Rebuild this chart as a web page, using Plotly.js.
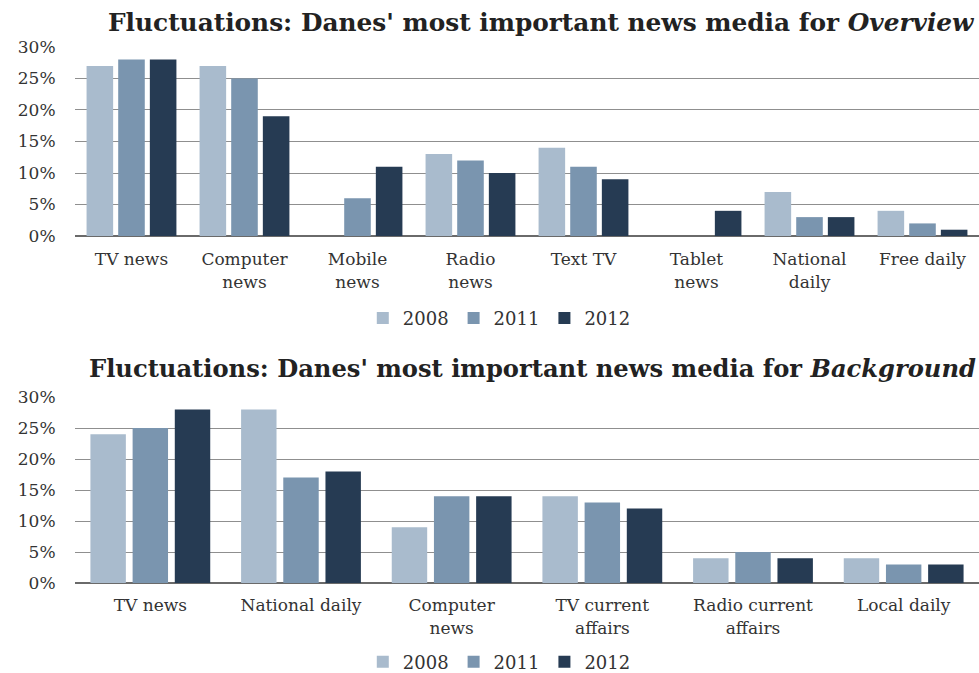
<!DOCTYPE html>
<html>
<head>
<meta charset="utf-8">
<script src="https://cdn.plot.ly/plotly-3.0.1.min.js"></script>
<style>html,body{margin:0;padding:0;background:#fff;}#chart{width:979px;height:673px;}</style>
</head>
<body>
<div id="chart"></div>
<script>
// ---- Data ----
const years = ["2008", "2011", "2012"];
const colors = ["#A9BBCD", "#7A95AF", "#263B53"];

const overviewCategories = ["TV news", "Computer<br>news", "Mobile<br>news", "Radio<br>news", "Text TV", "Tablet<br>news", "National<br>daily", "Free daily"];
const overview2008 = [27, 27, null, 13, 14, null, 7, 4];
const overview2011 = [28, 25, 6, 12, 11, null, 3, 2];
const overview2012 = [28, 19, 11, 10, 9, 4, 3, 1];

const backgroundCategories = ["TV news", "National daily", "Computer<br>news", "TV current<br>affairs", "Radio current<br>affairs", "Local daily"];
const background2008 = [24, 28, 9, 14, 4, 4];
const background2011 = [25, 17, 14, 13, 5, 3];
const background2012 = [28, 18, 14, 12, 4, 3];

const yTickVals = [0, 5, 10, 15, 20, 25, 30];
const yTickLabels = ["0%", "5%", "10%", "15%", "20%", "25%", "30%"];

const titleTop = "Fluctuations: Danes' most important news media for <i>Overview</i>";
const titleBottom = "Fluctuations: Danes' most important news media for <i>Background</i>";

// ---- Build ----
const serif = "DejaVu Serif, Liberation Serif, serif";
const overviewSeries = [overview2008, overview2011, overview2012];
const backgroundSeries = [background2008, background2011, background2012];

const traces = [];
years.forEach((y, i) => {
  traces.push({
    type: "bar", name: y, x: overviewCategories, y: overviewSeries[i],
    xaxis: "x", yaxis: "y", marker: {color: colors[i]}, legend: "legend",
    hoverinfo: "skip"
  });
});
years.forEach((y, i) => {
  traces.push({
    type: "bar", name: y, x: backgroundCategories, y: backgroundSeries[i],
    xaxis: "x2", yaxis: "y2", marker: {color: colors[i]}, legend: "legend2",
    hoverinfo: "skip"
  });
});

const yaxisBase = {
  range: [0, 30], tickmode: "array", tickvals: yTickVals, ticktext: yTickLabels,
  showgrid: true, gridcolor: "#8f8f8f", gridwidth: 1,
  zeroline: true, zerolinecolor: "#6a6a6a", zerolinewidth: 1.5,
  showline: false, ticks: "outside", ticklen: 15, tickcolor: "rgba(0,0,0,0)",
  tickfont: {family: serif, size: 17, color: "#333"}, fixedrange: true, automargin: false
};
const xaxisBase = {
  showgrid: false, showline: false, ticks: "outside", ticklen: 8,
  tickcolor: "rgba(0,0,0,0)", fixedrange: true, automargin: false,
  tickfont: {family: serif, size: 17, color: "#333"}
};
const legendBase = {
  orientation: "h", xanchor: "center", yanchor: "middle",
  font: {family: serif, size: 18, color: "#333"},
  traceorder: "normal", itemwidth: 30, bgcolor: "rgba(0,0,0,0)"
};

const layout = {
  width: 979, height: 673,
  margin: {l: 0, r: 0, t: 0, b: 0, autoexpand: false},
  paper_bgcolor: "#fff", plot_bgcolor: "#fff",
  barmode: "group", bargap: 0.16, bargroupgap: 0.16,
  showlegend: true,
  xaxis: Object.assign({}, xaxisBase, {domain: [0.0766, 1.0], anchor: "y"}),
  yaxis: Object.assign({}, yaxisBase, {domain: [0.6493, 0.9302], anchor: "x"}),
  xaxis2: Object.assign({}, xaxisBase, {domain: [0.0766, 1.0], anchor: "y2", ticklen: 7}),
  yaxis2: Object.assign({}, yaxisBase, {domain: [0.1337, 0.4101], anchor: "x2"}),
  legend: Object.assign({}, legendBase, {x: 0.51, y: 0.527}),
  legend2: Object.assign({}, legendBase, {x: 0.51, y: 0.0163}),
  annotations: [
    {text: "<b>" + titleTop + "</b>", xref: "paper", yref: "paper", x: 0.553, y: 0.967,
     xanchor: "center", yanchor: "middle", showarrow: false,
     font: {family: serif, size: 24.8, color: "#222"}},
    {text: "<b>" + titleBottom + "</b>", xref: "paper", yref: "paper", x: 0.544, y: 0.453,
     xanchor: "center", yanchor: "middle", showarrow: false,
     font: {family: serif, size: 24.2, color: "#222"}}
  ]
};

Plotly.newPlot("chart", traces, layout, {displayModeBar: false, staticPlot: true});
</script>
</body>
</html>
